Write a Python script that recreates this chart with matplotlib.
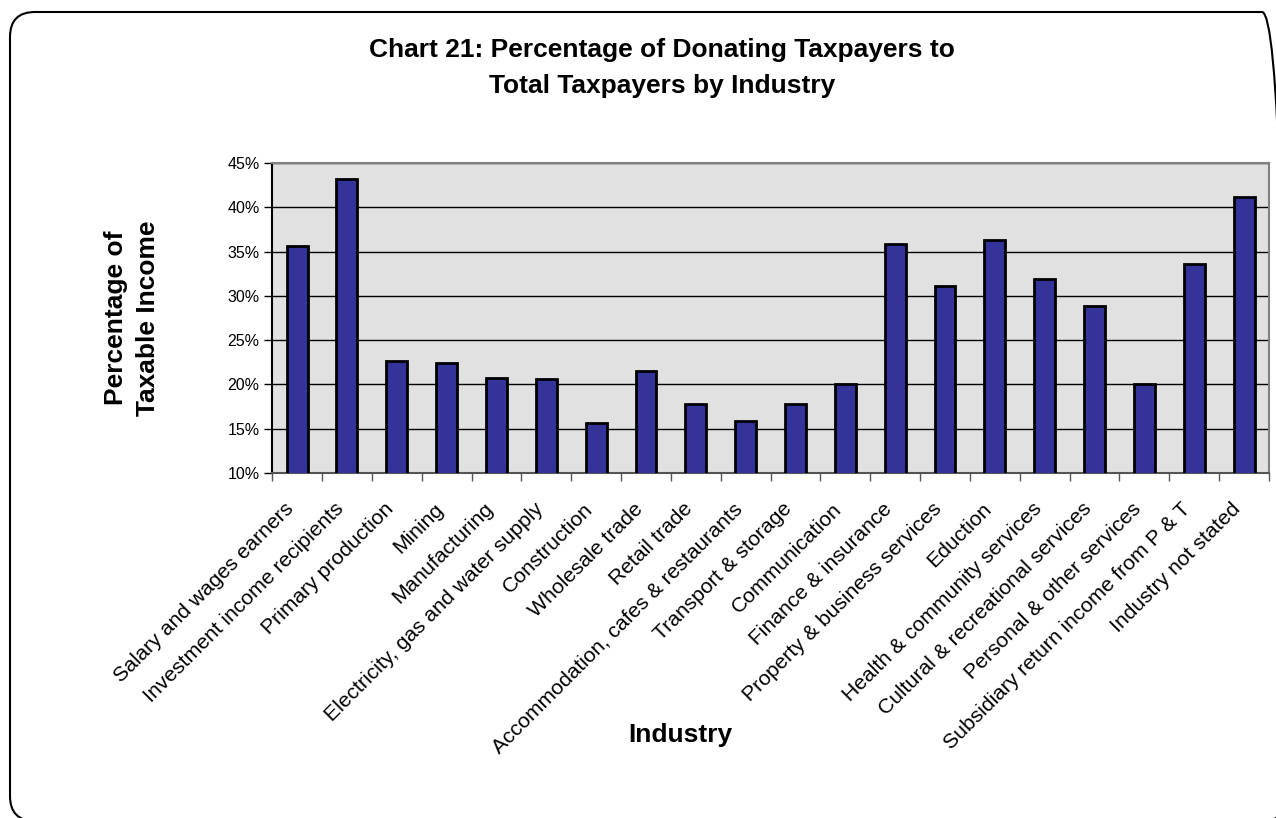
import matplotlib.pyplot as plt
from matplotlib.patches import FancyBboxPatch
from matplotlib.ticker import FixedLocator, PercentFormatter
from matplotlib.transforms import ScaledTranslation

plt.rcParams['font.family'] = ['Liberation Sans', 'DejaVu Sans']

# data
industries = [
    "Salary and wages earners",
    "Investment income recipients",
    "Primary production",
    "Mining",
    "Manufacturing",
    "Electricity, gas and water supply",
    "Construction",
    "Wholesale trade",
    "Retail trade",
    "Accommodation, cafes & restaurants",
    "Transport & storage",
    "Communication",
    "Finance & insurance",
    "Property & business services",
    "Eduction",
    "Health & community services",
    "Cultural & recreational services",
    "Personal & other services",
    "Subsidiary return income from P & T",
    "Industry not stated",
]
pct_donating = [35.6, 43.2, 22.6, 22.4, 20.75, 20.6, 15.6, 21.5, 17.75, 15.9,
                17.8, 20.0, 35.8, 31.1, 36.3, 31.9, 28.8, 20.0, 33.6, 41.2]
y_ticks = [10, 15, 20, 25, 30, 35, 40, 45]

fig = plt.figure(figsize=(12.76, 8.18), dpi=100)
ax = fig.add_axes([0.2133, 0.4218, 0.7812, 0.3789])

x = range(len(industries))
ax.bar(x, pct_donating, width=0.42, bottom=0, color="#333399",
       edgecolor="black", linewidth=2, zorder=3)

ax.set_facecolor("#e1e1e1")
ax.set_xlim(-0.5, len(industries) - 0.5)
ax.set_ylim(10, 45)
ax.set_yticks(y_ticks)
ax.yaxis.set_major_formatter(PercentFormatter(decimals=0))
ax.grid(axis="y", color="black", linewidth=1, zorder=1)

# category labels centred, tick marks at the boundaries
ax.set_xticks(list(x))
ax.set_xticklabels(industries, rotation=45, ha="right", va="top",
                   rotation_mode="anchor", fontsize=15.2)
ax.tick_params(axis="x", which="major", length=0, pad=19)
shift = ScaledTranslation(-0.13, 0, fig.dpi_scale_trans)
for lbl in ax.get_xticklabels():
    lbl.set_transform(lbl.get_transform() + shift)
ax.xaxis.set_minor_locator(FixedLocator([i - 0.5 for i in range(len(industries) + 1)]))
ax.tick_params(axis="x", which="minor", length=6, width=1, color="#555555")
ax.tick_params(axis="y", length=6, width=1, labelsize=11.5, pad=3)

for side in ["top", "right"]:
    ax.spines[side].set_color("#808080")
    ax.spines[side].set_linewidth(1.5)
ax.spines["left"].set_color("black")
ax.spines["left"].set_linewidth(1.5)
ax.spines["bottom"].set_color("#555555")
ax.spines["bottom"].set_linewidth(1.5)

# titles
fig.text(662 / 1276, 1 - 50 / 818, "Chart 21: Percentage of Donating Taxpayers to",
         ha="center", va="center", fontsize=19, fontweight="bold")
fig.text(662 / 1276, 1 - 86 / 818, "Total Taxpayers by Industry",
         ha="center", va="center", fontsize=19, fontweight="bold")
fig.text(132 / 1276, 1 - 318 / 818, "Percentage of\nTaxable Income",
         ha="center", va="center", rotation=90, fontsize=19, fontweight="bold",
         linespacing=1.4)
fig.text(680 / 1276, 1 - 735 / 818, "Industry", ha="center", va="center",
         fontsize=19, fontweight="bold")

# rounded frame around the chart
frame = FancyBboxPatch((0.10, -0.03), 12.77, 8.09,
                       boxstyle="round,pad=0,rounding_size=0.25",
                       transform=fig.dpi_scale_trans, facecolor="none",
                       edgecolor="black", linewidth=1.5, clip_on=False)
fig.add_artist(frame)

plt.savefig("out.png", dpi=100)
